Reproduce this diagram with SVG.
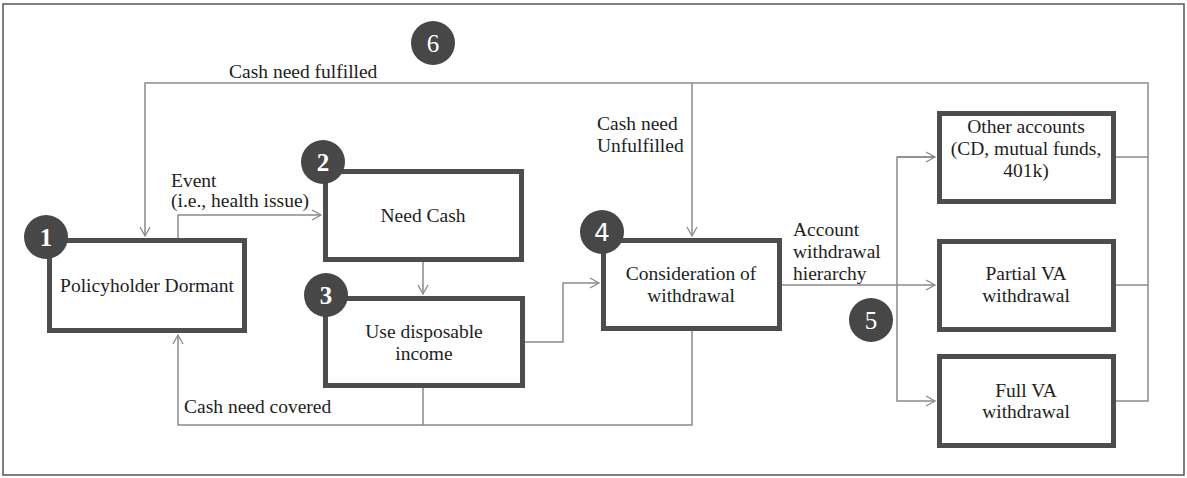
<svg xmlns="http://www.w3.org/2000/svg" width="1187" height="478" viewBox="0 0 1187 478">
<style>
.frame{fill:#fff;stroke:#555;stroke-width:1.5}
.box{fill:#fff;stroke:#4d4d4d;stroke-width:5}
.badge{fill:#474747}
.num{fill:#fff;font-family:'Liberation Serif','DejaVu Serif',serif;font-size:25px;font-weight:bold;text-anchor:middle}
.t{fill:#1e1e1e;font-family:'Liberation Serif','DejaVu Serif',serif;font-size:19.5px}
.c{text-anchor:middle}
.conn{fill:none;stroke:#8a8a8a;stroke-width:1.5}
</style>
<defs>
<marker id="arr" markerUnits="userSpaceOnUse" markerWidth="12" markerHeight="12" refX="10" refY="6" orient="auto">
<path d="M1,1 L10,6 L1,11" fill="none" stroke="#8a8a8a" stroke-width="1.3"/>
</marker>
</defs>
<rect class="frame" x="3" y="4" width="1181" height="471"/>
<g id="connectors">
<path class="conn" d="M1116,401 H1148 V83 H145 V236" marker-end="url(#arr)"/>
<path class="conn" d="M1116,157 H1148"/>
<path class="conn" d="M1116,285 H1148"/>
<path class="conn" d="M692,83 V236" marker-end="url(#arr)"/>
<path class="conn" d="M178,238 V215 H321" marker-end="url(#arr)"/>
<path class="conn" d="M423,262 V294" marker-end="url(#arr)"/>
<path class="conn" d="M525,342 H563 V283 H599" marker-end="url(#arr)"/>
<path class="conn" d="M423,388 V425 H178 V335" marker-end="url(#arr)"/>
<path class="conn" d="M692,331 V425 H423"/>
<path class="conn" d="M782,285 H935" marker-end="url(#arr)"/>
<path class="conn" d="M935,157 H897 V401 H935" marker-end="url(#arr)"/>
<path class="conn" d="M897,157 H935" marker-end="url(#arr)"/>
<text class="t" x="229" y="78">Cash need fulfilled</text>
<text class="t" x="171" y="187">Event</text>
<text class="t" x="171" y="207">(i.e., health issue)</text>
<text class="t" x="597" y="130">Cash need</text>
<text class="t" x="597" y="152">Unfulfilled</text>
<text class="t" x="793" y="236">Account</text>
<text class="t" x="793" y="258">withdrawal</text>
<text class="t" x="793" y="280">hierarchy</text>
<text class="t" x="184" y="413">Cash need covered</text>
</g>
<g id="n1">
<rect class="box" x="49.5" y="240.5" width="195" height="90"/>
<circle class="badge" cx="46" cy="237" r="22"/>
<text class="num" x="46" y="246">1</text>
<text class="t c" x="147" y="292">Policyholder Dormant</text>
</g>
<g id="n2">
<rect class="box" x="325.5" y="171.5" width="196" height="88"/>
<circle class="badge" cx="323" cy="162" r="22"/>
<text class="num" x="323" y="171">2</text>
<text class="t c" x="423" y="222">Need Cash</text>
</g>
<g id="n3">
<rect class="box" x="325.5" y="298.5" width="197" height="87"/>
<circle class="badge" cx="326" cy="295" r="22"/>
<text class="num" x="326" y="304">3</text>
<text class="t c" x="424" y="338">Use disposable</text>
<text class="t c" x="424" y="360">income</text>
</g>
<g id="n4">
<rect class="box" x="603.5" y="240.5" width="176" height="88"/>
<circle class="badge" cx="602" cy="232" r="22"/>
<text class="num" x="602" y="241" style="font-family:'DejaVu Sans',sans-serif;font-weight:normal">4</text>
<text class="t c" x="691" y="280">Consideration of</text>
<text class="t c" x="691" y="302">withdrawal</text>
</g>
<g id="n5">
<circle class="badge" cx="871" cy="320" r="22"/>
<text class="num" x="871" y="329" style="font-weight:normal">5</text>
</g>
<g id="n6">
<circle class="badge" cx="433" cy="43" r="22"/>
<text class="num" x="433" y="52" style="font-weight:normal">6</text>
</g>
<g id="n7">
<rect class="box" x="939.5" y="113.5" width="174" height="88"/>
<text class="t c" x="1026" y="133">Other accounts</text>
<text class="t c" x="1026" y="155">(CD, mutual funds,</text>
<text class="t c" x="1026" y="177">401k)</text>
</g>
<g id="n8">
<rect class="box" x="939.5" y="241.5" width="174" height="88"/>
<text class="t c" x="1026" y="280">Partial VA</text>
<text class="t c" x="1026" y="302">withdrawal</text>
</g>
<g id="n9">
<rect class="box" x="939.5" y="356.5" width="174" height="89"/>
<text class="t c" x="1026" y="397">Full VA</text>
<text class="t c" x="1026" y="418">withdrawal</text>
</g>
</svg>
